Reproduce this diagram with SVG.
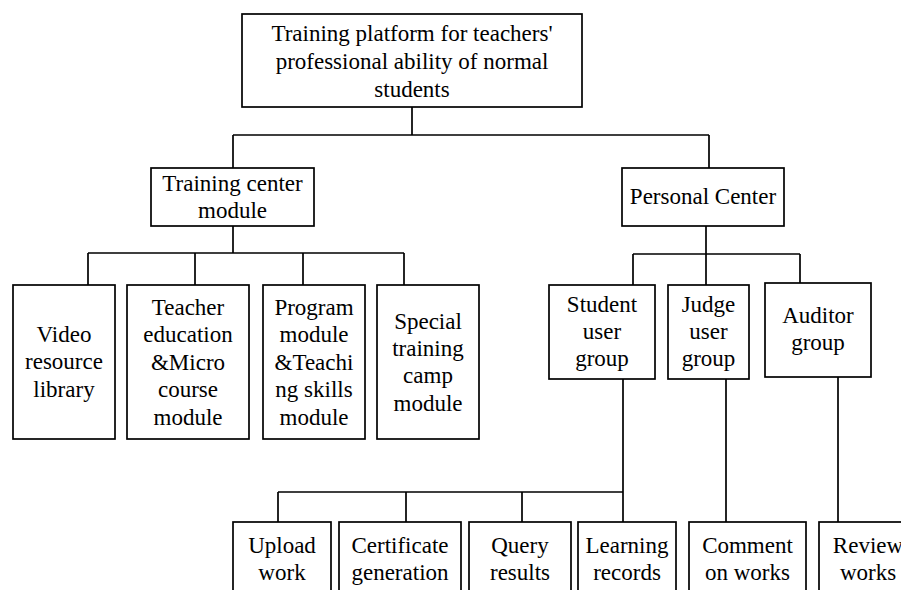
<svg xmlns="http://www.w3.org/2000/svg" width="901" height="590" viewBox="0 0 901 590">
<style>
rect{fill:#fff;stroke:#000;stroke-width:1.7}
.c path{fill:none;stroke:#000;stroke-width:1.7}
text{font-family:'Liberation Serif',Tinos,'Times New Roman',Times,'DejaVu Serif',serif;font-size:23px;fill:#000;text-anchor:middle}
</style>
<rect x="0" y="0" width="901" height="590" style="stroke:none"/>
<g class="c" id="connectors">
<path d="M412 107V135M233 135H709M233 135V168M709 135V168"/>
<path d="M233 226V253M88 253H404M88 253V285M195 253V285M303 253V285M404 253V285"/>
<path d="M706 226V254M633 254H800M633 254V285M706 254V285M800 254V283"/>
<path d="M623 379V492M278 492H623M278 492V522M406 492V522M522 492V522M623 492V522"/>
<path d="M726 379V522M838 377V522"/>
</g>
<g id="root"><rect x="242" y="14" width="340" height="93"/>
<text x="412" y="41">Training platform for teachers'</text><text x="412" y="69">professional ability of normal</text><text x="412" y="97">students</text></g>
<g id="training"><rect x="151" y="168" width="163" height="58"/><text x="232.5" y="191">Training center</text><text x="232.5" y="218">module</text></g>
<g id="personal"><rect x="622" y="168" width="162" height="58"/><text x="703" y="204">Personal Center</text></g>
<g id="video"><rect x="13" y="285" width="102" height="154"/><text x="64" y="342">Video</text><text x="64" y="369">resource</text><text x="64" y="397">library</text></g>
<g id="teacher"><rect x="127" y="285" width="122" height="154"/><text x="188" y="315">Teacher</text><text x="188" y="342">education</text><text x="188" y="370">&amp;Micro</text><text x="188" y="397">course</text><text x="188" y="425">module</text></g>
<g id="program"><rect x="263" y="285" width="102" height="154"/><text x="314" y="315">Program</text><text x="314" y="342">module</text><text x="314" y="370">&amp;Teachi</text><text x="314" y="397">ng skills</text><text x="314" y="425">module</text></g>
<g id="special"><rect x="377" y="285" width="102" height="154"/><text x="428" y="329">Special</text><text x="428" y="356">training</text><text x="428" y="383">camp</text><text x="428" y="411">module</text></g>
<g id="student"><rect x="549" y="285" width="106" height="94"/><text x="602" y="312">Student</text><text x="602" y="339">user</text><text x="602" y="366">group</text></g>
<g id="judge"><rect x="668" y="285" width="81" height="94"/><text x="708.5" y="312">Judge</text><text x="708.5" y="339">user</text><text x="708.5" y="366">group</text></g>
<g id="auditor"><rect x="765" y="283" width="106" height="94"/><text x="818" y="323">Auditor</text><text x="818" y="350">group</text></g>
<g id="upload"><rect x="233" y="522" width="98" height="80"/><text x="282" y="553">Upload</text><text x="282" y="580">work</text></g>
<g id="certificate"><rect x="339" y="522" width="122" height="80"/><text x="400" y="553">Certificate</text><text x="400" y="580">generation</text></g>
<g id="query"><rect x="469" y="522" width="102" height="80"/><text x="520" y="553">Query</text><text x="520" y="580">results</text></g>
<g id="learning"><rect x="578" y="522" width="98" height="80"/><text x="627" y="553">Learning</text><text x="627" y="580">records</text></g>
<g id="comment"><rect x="689" y="522" width="117" height="80"/><text x="747.5" y="553">Comment</text><text x="747.5" y="580">on works</text></g>
<g id="review"><rect x="819" y="522" width="100" height="80"/><text x="868" y="553">Review</text><text x="868" y="580">works</text></g>
</svg>
